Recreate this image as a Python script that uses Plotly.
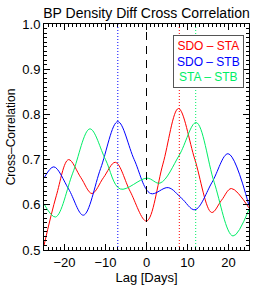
import plotly.graph_objects as go

# ---- data ----
red_lag = [-25, -22, -19, -16, -13.3, -10.5, -7.6, -4, 0, 4, 7.8, 11.8, 15.9, 18.3, 20.7, 25]
red_val = [0.51, 0.62, 0.70, 0.66, 0.625, 0.66, 0.694, 0.63, 0.564, 0.69, 0.813, 0.70, 0.583, 0.61, 0.636, 0.593]

blue_lag = [-25, -22.6, -19, -15.4, -11.2, -7.0, -3, 1.0, 5.3, 8.5, 11.8, 16, 19.9, 25]
blue_val = [0.659, 0.684, 0.635, 0.577, 0.68, 0.784, 0.70, 0.625, 0.638, 0.615, 0.589, 0.65, 0.713, 0.598]

green_lag = [-25, -22.2, -18, -13.8, -10, -6.4, 0.1, 3.3, 8, 12.1, 16.5, 21.1, 25]
green_val = [0.602, 0.573, 0.67, 0.768, 0.70, 0.635, 0.659, 0.648, 0.71, 0.782, 0.65, 0.531, 0.590]

series_names = ["SDO – STA", "SDO – STB", "STA – STB"]
peak_lags = [8, -7, 12]
colors = ["#ff0000", "#0000ff", "#00ee66"]

x_ticks = [-20, -10, 0, 10, 20]
y_ticks = [0.5, 0.6, 0.7, 0.8, 0.9, 1.0]

fig = go.Figure()
for lag, val, c in zip([red_lag, blue_lag, green_lag], [red_val, blue_val, green_val], colors):
    fig.add_trace(go.Scatter(x=lag, y=val, mode="lines",
                             line=dict(color=c, width=1, shape="spline", smoothing=1.0),
                             showlegend=False, hoverinfo="skip"))

# vertical markers
fig.add_trace(go.Scatter(x=[0, 0], y=[0.5, 1.0], mode="lines",
                         line=dict(color="black", width=1, dash="8px,6px"),
                         showlegend=False, hoverinfo="skip"))
for p, c in zip(peak_lags, colors):
    fig.add_trace(go.Scatter(x=[p, p], y=[0.5, 1.0], mode="lines",
                             line=dict(color=c, width=1, dash="1px,2px"),
                             showlegend=False, hoverinfo="skip"))

legend_text = "<br>".join(
    f"<span style='color:{c}'>{n}</span>" for n, c in zip(series_names, colors))
fig.add_annotation(x=0.976, y=0.951, xref="paper", yref="paper", xanchor="right", yanchor="top",
                   text=legend_text, showarrow=False, align="center",
                   font=dict(family="Liberation Sans, Arial", size=12),
                   bordercolor="#555555", borderwidth=1, borderpad=3, bgcolor="white")

axis_common = dict(showgrid=False, zeroline=False, showline=True, linecolor="black", linewidth=1,
                   mirror="ticks", ticks="inside", ticklen=6, tickcolor="black", automargin=False,
                   tickfont=dict(family="Liberation Sans, Arial", size=13, color="black"))

fig.update_xaxes(range=[-25, 25], tickvals=x_ticks,
                 minor=dict(ticks="inside", dtick=1, ticklen=3, tickcolor="black"),
                 title=dict(text="Lag [Days]", standoff=2,
                            font=dict(family="Liberation Sans, Arial", size=13, color="black")),
                 **axis_common)
fig.update_yaxes(range=[0.5, 1.0], tickvals=y_ticks, tickformat=".1f",
                 minor=dict(ticks="inside", dtick=0.01, ticklen=3, tickcolor="black"),
                 title=dict(text="Cross–Correlation", standoff=4,
                            font=dict(family="Liberation Sans, Arial", size=12, color="black")),
                 **axis_common)

fig.update_layout(
    width=265, height=286,
    margin=dict(l=44, r=16, t=24, b=36),
    paper_bgcolor="white", plot_bgcolor="white",
    title=dict(text="BP Density Diff Cross Correlation", xref="paper", x=0.5, xanchor="center",
               yref="container", y=0.955, yanchor="middle",
               font=dict(family="Liberation Sans, Arial", size=14, color="black")),
)

fig.write_html("out.html", config={"displayModeBar": False},
               post_script="document.body.style.margin='0';document.body.style.padding='0';")
